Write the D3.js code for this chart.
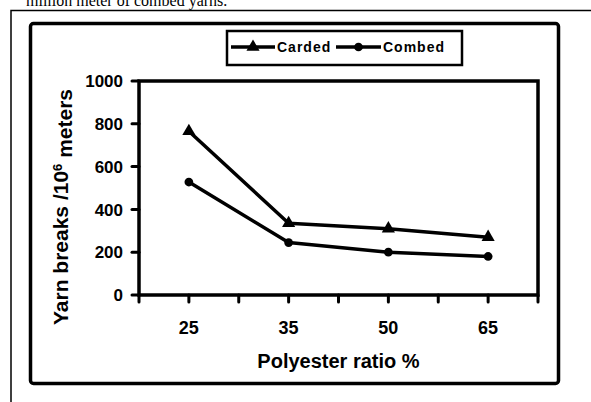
<!DOCTYPE html>
<meta charset="utf-8">
<style>
    body { margin: 0; background: #fff; }
    text { font-family: "Liberation Sans", Arial, sans-serif; font-weight: bold; fill: #000; }
</style>
<body>
    <div id="chart"></div>
</body>
<script src="https://cdn.jsdelivr.net/npm/d3@7"></script>
<script>
    var svg_width = 591,
        svg_height = 402;

    // data
    var categories = ["25", "35", "50", "65"];
    var carded = [765, 335, 310, 270];
    var combed = [528, 245, 200, 180];
    var y_ticks = [0, 200, 400, 600, 800, 1000];

    var plot = {left: 139, right: 538, top: 81, bottom: 295};

    var svg = d3.select("#chart").append("svg")
        .attr("width", svg_width)
        .attr("height", svg_height);

    // caption fragment cut off at the top
    svg.append("text")
        .attr("x", 26)
        .attr("y", 6)
        .style("font-family", "'Liberation Serif', 'Times New Roman', serif")
        .style("font-weight", "normal")
        .style("font-size", "16px")
        .text("million meter of combed yarns.");

    // thin outer frame (runs off the right and bottom)
    svg.append("path")
        .attr("d", "M11,402 L11,10.5 L591,10.5")
        .style("fill", "none")
        .style("stroke", "#000")
        .style("stroke-width", 1.5);

    // chart area frame
    svg.append("rect")
        .attr("x", 30.5).attr("y", 23.5)
        .attr("width", 528).attr("height", 360)
        .attr("rx", 3)
        .style("fill", "none")
        .style("stroke", "#000")
        .style("stroke-width", 3.5);

    var x = d3.scaleBand()
        .domain(categories)
        .range([plot.left, plot.right])
        .padding(0);
    var bw = x.bandwidth();

    var y = d3.scaleLinear()
        .domain([0, 1000])
        .range([plot.bottom, plot.top]);

    // plot area border
    svg.append("rect")
        .attr("x", plot.left).attr("y", plot.top)
        .attr("width", plot.right - plot.left)
        .attr("height", plot.bottom - plot.top)
        .style("fill", "none")
        .style("stroke", "#000")
        .style("stroke-width", 3.5);

    // y ticks + labels
    svg.selectAll("line.ytick")
        .data(y_ticks)
        .enter().append("line")
            .attr("class", "ytick")
            .attr("x1", plot.left - 7).attr("x2", plot.left)
            .attr("y1", function(d) { return y(d); })
            .attr("y2", function(d) { return y(d); })
            .style("stroke", "#000")
            .style("stroke-width", 3)
            .style("stroke-linecap", "round");

    svg.selectAll("text.ylab")
        .data(y_ticks)
        .enter().append("text")
            .attr("class", "ylab")
            .attr("x", plot.left - 16)
            .attr("y", function(d) { return y(d); })
            .attr("dy", "0.36em")
            .attr("text-anchor", "end")
            .style("font-size", "17px")
            .text(function(d) { return d; });

    // x ticks at band edges and at band centres
    var x_tick_pos = [];
    categories.forEach(function(c) {
        x_tick_pos.push(x(c));
        x_tick_pos.push(x(c) + bw / 2);
    });
    x_tick_pos.push(plot.right);

    svg.selectAll("line.xtick")
        .data(x_tick_pos)
        .enter().append("line")
            .attr("class", "xtick")
            .attr("x1", function(d) { return d; })
            .attr("x2", function(d) { return d; })
            .attr("y1", plot.bottom).attr("y2", plot.bottom + 7)
            .style("stroke", "#000")
            .style("stroke-width", 3)
            .style("stroke-linecap", "round");

    svg.selectAll("text.xlab")
        .data(categories)
        .enter().append("text")
            .attr("class", "xlab")
            .attr("x", function(d) { return x(d) + bw / 2; })
            .attr("y", 334)
            .attr("text-anchor", "middle")
            .style("font-size", "18px")
            .text(function(d) { return d; });

    // axis titles
    svg.append("text")
        .attr("x", (plot.left + plot.right) / 2)
        .attr("y", 368)
        .attr("text-anchor", "middle")
        .style("font-size", "20px")
        .text("Polyester ratio %");

    var ytitle = svg.append("text")
        .attr("transform", "translate(68," + 207 + ") rotate(-90)")
        .attr("text-anchor", "middle")
        .style("font-size", "21px");
    ytitle.append("tspan").text("Yarn breaks /10");
    ytitle.append("tspan").attr("dy", "-0.5em").style("font-size", "13px").text("6");
    ytitle.append("tspan").attr("dy", "0.5em").text(" meters");

    // series
    var series = [
        {name: "Carded", values: carded, symbol: d3.symbolTriangle},
        {name: "Combed", values: combed, symbol: d3.symbolCircle}
    ];

    var line = d3.line()
        .x(function(d, i) { return x(categories[i]) + bw / 2; })
        .y(function(d) { return y(d); });

    series.forEach(function(s) {
        svg.append("path")
            .attr("d", line(s.values))
            .style("fill", "none")
            .style("stroke", "#000")
            .style("stroke-width", 3.5)
            .style("stroke-linejoin", "round");

        svg.selectAll(null)
            .data(s.values)
            .enter().append("path")
                .attr("transform", function(d, i) {
                    return "translate(" + (x(categories[i]) + bw / 2) + "," + y(d) + ")";
                })
                .attr("d", d3.symbol().type(s.symbol).size(s.symbol === d3.symbolTriangle ? 75 : 60))
                .style("fill", "#000");
    });

    // legend
    var legend = svg.append("g");
    legend.append("rect")
        .attr("x", 227).attr("y", 31)
        .attr("width", 235).attr("height", 34)
        .style("fill", "#fff")
        .style("stroke", "#000")
        .style("stroke-width", 2.5);

    var leg_items = [
        {x1: 231, x2: 275, text_x: 277},
        {x1: 336, x2: 381, text_x: 383}
    ];
    series.forEach(function(s, i) {
        var it = leg_items[i];
        legend.append("line")
            .attr("x1", it.x1).attr("x2", it.x2)
            .attr("y1", 47).attr("y2", 47)
            .style("stroke", "#000")
            .style("stroke-width", 3.5);
        legend.append("path")
            .attr("transform", "translate(" + (it.x1 + it.x2) / 2 + ",47)")
            .attr("d", d3.symbol().type(s.symbol).size(s.symbol === d3.symbolTriangle ? 75 : 60))
            .style("fill", "#000");
        legend.append("text")
            .attr("x", it.text_x)
            .attr("y", 47)
            .attr("dy", "0.36em")
            .style("font-size", "14px")
            .style("letter-spacing", "1px")
            .text(s.name);
    });
</script>
